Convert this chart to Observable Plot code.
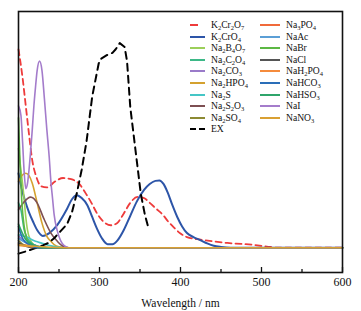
<!DOCTYPE html>
<html><head><meta charset="utf-8">
<script src="https://cdn.jsdelivr.net/npm/d3@7"></script>
<script src="https://cdn.jsdelivr.net/npm/@observablehq/plot@0.6"></script>
<style>
body{margin:0;background:#fff;}
#wrap{position:relative;width:361px;height:311px;font-family:"Liberation Serif","Times New Roman",serif;}
#wrap svg text{font-family:"Liberation Serif","Times New Roman",serif !important;fill:#111;}
.item{position:absolute;font-size:9.6px;line-height:10px;white-space:nowrap;display:flex;align-items:center;color:#111;}
.item sub{font-size:6.5px;vertical-align:-2px;line-height:0;}
.item svg{margin-right:6px;}
</style></head><body><div id="wrap"></div>
<script>
// ---- data (wavelength in nm, absorbance in arbitrary units) ----
const names = ["K2Cr2O7","K2CrO4","Na2B4O7","Na2C2O4","Na2CO3","Na2HPO4","Na2S","Na2S2O3","Na2SO4","EX",
               "Na3PO4","NaAc","NaBr","NaCl","NaH2PO4","NaHCO3","NaHSO3","NaI","NaNO3"];
const colors = ["#EE3B3B","#2D55A8","#9CCF5A","#3DB887","#9A7BC9","#D4A12F","#45C6C6","#7D4F52","#8C8A33","#000000",
                "#F06A3A","#5B9FD6","#5CB844","#555555","#F58B3C","#2A6EB8","#2FA56B","#A47CCB","#D9A032"];
const dashes = {"K2Cr2O7":"6,4","EX":"7,5"};

const wlK2Cr2O7 = [200,205,209,213,217,222,228,235,245,255,265,275,283,290,297,305,314,322,330,338,347,355,362,370,378,385,392,400,408,425,440,458,475,490,500,511,520,600];
const vK2Cr2O7  = [0.84,0.72,0.6,0.48,0.37,0.3,0.26,0.255,0.28,0.295,0.29,0.27,0.23,0.19,0.145,0.11,0.095,0.105,0.145,0.19,0.215,0.21,0.19,0.165,0.14,0.11,0.085,0.06,0.045,0.034,0.027,0.02,0.016,0.012,0.008,0.003,0,0];
const wlK2CrO4 = [200,204,208,213,218,223,230,238,248,260,266,272,278,285,291,297,303,310,316,322,330,338,346,355,362,369,374,379,384,390,396,402,408,416,425,433,441,450,462,600];
const vK2CrO4  = [0.315,0.25,0.2,0.15,0.11,0.075,0.05,0.062,0.097,0.165,0.205,0.222,0.21,0.18,0.13,0.08,0.04,0.015,0.015,0.03,0.075,0.135,0.195,0.245,0.27,0.283,0.285,0.27,0.235,0.18,0.13,0.09,0.062,0.045,0.031,0.018,0.008,0.003,0,0];
const wlNa2B4O7 = [200,203,206,209,211,215,220,230,600];
const vNa2B4O7  = [0.42,0.33,0.24,0.13,0.076,0.03,0.01,0,0];
const wlNa2C2O4 = [200,203,207,211,216,225,235,600];
const vNa2C2O4  = [0.19,0.16,0.076,0.04,0.02,0.005,0,0];
const wlNa2CO3 = [200,210,220,230,600];
const vNa2CO3  = [0.05,0.02,0.005,0,0];
const wlNa2HPO4 = [200,204,209,213,217,223,229,235,240,244,250,260,600];
const vNa2HPO4  = [0.28,0.305,0.315,0.305,0.273,0.19,0.104,0.048,0.027,0.013,0.004,0,0];
const wlNa2S = [200,210,221,230,237,248,260,600];
const vNa2S  = [0.055,0.045,0.027,0.018,0.01,0.003,0,0];
const wlNa2S2O3 = [200,206,215,223,231,240,248,254,262,600];
const vNa2S2O3  = [0.16,0.19,0.214,0.19,0.125,0.062,0.027,0.008,0,0];
const wlNa2SO4 = [200,205,212,220,600];
const vNa2SO4  = [0.03,0.015,0.005,0,0];
const wlEX = [200,210,220,230,237,244,252,260,266,272,278,284,291,299,302,309,316,320,325,331,334,338,344,351,356,361];
const vEX  = [-0.025,-0.015,-0.003,0.01,0.02,0.04,0.07,0.1,0.15,0.23,0.33,0.45,0.64,0.78,0.80,0.815,0.825,0.84,0.866,0.85,0.79,0.595,0.425,0.228,0.14,0.076];
const wlNa3PO4 = [200,215,230,600];
const vNa3PO4  = [0.015,0.008,0,0];
const wlNaAc = [200,210,220,235,600];
const vNaAc  = [0.04,0.02,0.01,0,0];
const wlNaBr = [200,202,204,207,210,215,225,600];
const vNaBr  = [0.55,0.35,0.2,0.09,0.04,0.01,0,0];
const wlNaCl = [200,210,220,600];
const vNaCl  = [0.02,0.005,0,0];
const wlNaH2PO4 = [200,220,240,600];
const vNaH2PO4  = [0.01,0.004,0,0];
const wlNaHCO3 = [200,205,212,225,600];
const vNaHCO3  = [0.09,0.04,0.015,0,0];
const wlNaHSO3 = [200,205,210,220,230,600];
const vNaHSO3  = [0.1,0.06,0.03,0.01,0,0];
const wlNaI = [200,203,205,207,209,211,213,215,217,219,221,223,226,229,232,235,238,240,242,244,248,252,256,262,600];
const vNaI  = [0.6,0.56,0.45,0.32,0.25,0.27,0.33,0.41,0.5,0.6,0.68,0.75,0.79,0.75,0.63,0.5,0.38,0.28,0.21,0.14,0.07,0.03,0.01,0,0];
const wlNaNO3 = [200,220,240,260,600];
const vNaNO3  = [0.012,0.006,0.002,0,0];

const majorTicks = [200,300,400,500,600];
const minorTicks = [250,350,450,550];
const xLabel = "Wavelength / nm";

const seriesData = {
  K2Cr2O7:[wlK2Cr2O7,vK2Cr2O7], K2CrO4:[wlK2CrO4,vK2CrO4], Na2B4O7:[wlNa2B4O7,vNa2B4O7],
  Na2C2O4:[wlNa2C2O4,vNa2C2O4], Na2CO3:[wlNa2CO3,vNa2CO3], Na2HPO4:[wlNa2HPO4,vNa2HPO4],
  Na2S:[wlNa2S,vNa2S], Na2S2O3:[wlNa2S2O3,vNa2S2O3], Na2SO4:[wlNa2SO4,vNa2SO4], EX:[wlEX,vEX],
  Na3PO4:[wlNa3PO4,vNa3PO4], NaAc:[wlNaAc,vNaAc], NaBr:[wlNaBr,vNaBr], NaCl:[wlNaCl,vNaCl],
  NaH2PO4:[wlNaH2PO4,vNaH2PO4], NaHCO3:[wlNaHCO3,vNaHCO3], NaHSO3:[wlNaHSO3,vNaHSO3],
  NaI:[wlNaI,vNaI], NaNO3:[wlNaNO3,vNaNO3]
};

const serif = '"Liberation Serif","Times New Roman",serif';

const lineMarks = names.map((n, i) => {
  const [wl, v] = seriesData[n];
  const rows = wl.map((w, j) => ({w, v: v[j]}));
  return Plot.line(rows, {
    x: "w", y: "v", stroke: colors[i],
    strokeWidth: (n === "EX" || n === "K2CrO4") ? 2 : (n === "K2Cr2O7" ? 1.8 : 1.6),
    strokeDasharray: dashes[n] || null,
    curve: n === "EX" ? "linear" : "monotone-x"
  });
});

const chart = Plot.plot({
  width: 361, height: 311,
  marginLeft: 18, marginRight: 19, marginTop: 11, marginBottom: 39,
  style: {fontFamily: serif, fontSize: "12px", background: "#fff", color: "#111"},
  x: {domain: [200, 600]},
  y: {domain: [-0.105, 1], axis: null},
  marks: [
    ...lineMarks,
    Plot.frame({stroke: "#111", strokeWidth: 1.6}),
    Plot.axisX({ticks: majorTicks, tickSize: -5, tickPadding: 10, tickFormat: d => String(d), label: null, strokeWidth: 1.3, fontFamily: serif, fontSize: 12}),
    Plot.axisX({ticks: minorTicks, tickSize: -3, tickFormat: () => "", label: null, strokeWidth: 1.3}),
    Plot.text([xLabel], {text: d => d, frameAnchor: "bottom", dy: 34, fontSize: 11.5, fontFamily: serif, fill: "#111"})
  ]
});
document.getElementById("wrap").appendChild(chart);

// legend (two columns inside the plot area)
const wrap = document.getElementById("wrap");
names.forEach((n, i) => {
  const col = i < 10 ? 0 : 1;
  const row = i < 10 ? i : i - 10;
  const el = document.createElement("div");
  el.className = "item";
  const sw = col === 0 ? 15 : 20;
  el.style.left = (col === 0 ? 190 : 260) + "px";
  el.style.top = (20 + row * 11.6) + "px";
  const dash = n === "K2Cr2O7" ? 'stroke-dasharray="8,20"' : (n === "EX" ? 'stroke-dasharray="6,3"' : "");
  el.innerHTML = `<svg width="${sw}" height="6"><line x1="0" x2="${sw}" y1="3" y2="3" stroke="${colors[i]}" stroke-width="2" ${dash}/></svg>` +
    `<span>${n.replace(/(\d)/g, "<sub>$1</sub>")}</span>`;
  wrap.appendChild(el);
});
</script>
</body></html>
